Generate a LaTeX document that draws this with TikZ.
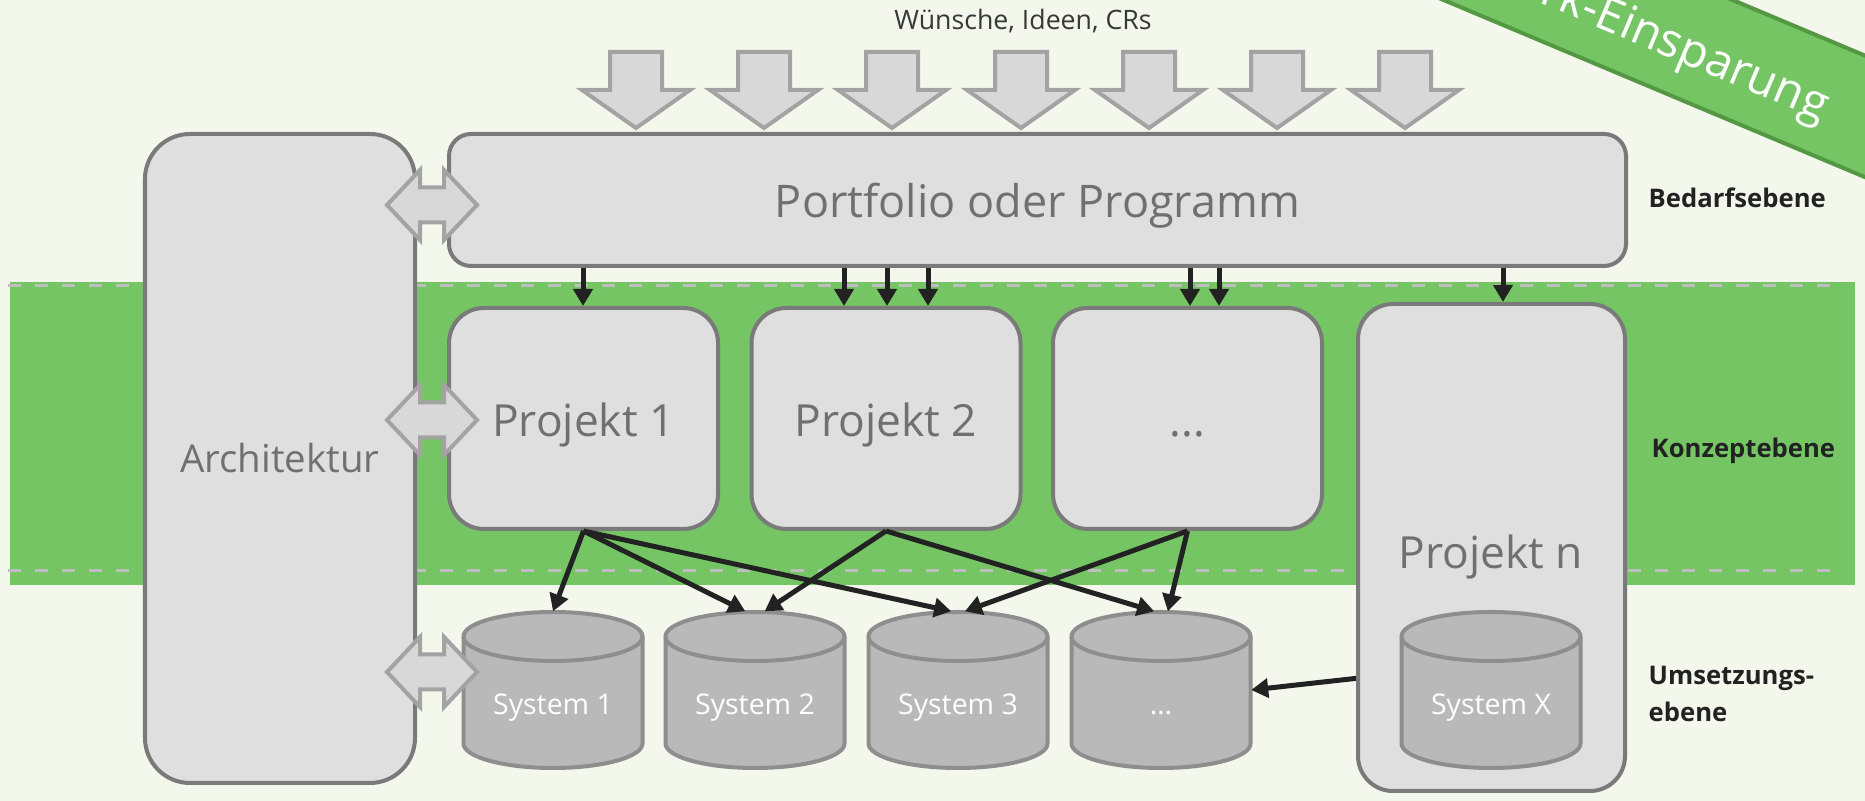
\documentclass[tikz,border=0pt]{standalone}
\usepackage{fontspec}
\setmainfont{Open Sans}
\usetikzlibrary{arrows.meta}

\definecolor{bgcol}{RGB}{244,247,236}
\definecolor{bandgreen}{RGB}{118,197,101}
\definecolor{banddark}{RGB}{84,152,68}
\definecolor{dashgray}{RGB}{190,190,190}
\definecolor{boxfill}{RGB}{223,223,223}
\definecolor{boxline}{RGB}{122,122,122}
\definecolor{boxtext}{RGB}{112,112,112}
\definecolor{arrfill}{RGB}{216,216,216}
\definecolor{arrline}{RGB}{163,163,163}
\definecolor{dbfill}{RGB}{185,185,185}
\definecolor{dbline}{RGB}{142,142,142}
\definecolor{ink}{RGB}{34,34,34}

\tikzset{every node/.style={inner sep=0pt}}

\begin{document}
\begin{tikzpicture}[box/.style={rounded corners=0.35cm,draw=boxline,fill=boxfill,line width=1.14pt,text=boxtext},
    dbshape/.style={draw=dbline,fill=dbfill,line width=1.14pt},
    dbnode/.style={minimum width=1.79cm,minimum height=1.56cm,text height=0.57cm,text depth=0.07cm,text=white,font=\fontsize{8.1}{10}\selectfont},
    flow/.style={-{Triangle[width=0.19cm,length=0.17cm]},draw=ink,line width=1.42pt},
    blockarrow/.style={draw=arrline,fill=arrfill,line width=1.14pt},
    level/.style={anchor=west,align=left,text=ink,font=\fontsize{7.3}{10.5}\selectfont\bfseries},
    big/.style={text height=0.37cm,text depth=0pt,font=\fontsize{12.6}{15}\selectfont}]
    \fill [bgcol] (0,0) rectangle (18.65,-8.01);
    \useasboundingbox (0,0) rectangle (18.65,-8.01);
    \fill [bandgreen] (0.10,-2.82) rectangle (18.55,-5.85);
    \draw [dashgray,line width=0.85pt,dash pattern=on 0.13cm off 0.14cm] (0.08,-2.86) -- (18.37,-2.86);
    \draw [dashgray,line width=0.85pt,dash pattern=on 0.13cm off 0.14cm] (0.08,-5.71) -- (18.37,-5.71);

    \node (Banner) at (16.88,-0.42) [rotate=-22.8,fill=bandgreen,draw=banddark,line width=1.14pt,minimum width=8cm,minimum height=1.12cm,text height=0.54cm,text depth=0.11cm,text=white,font=\fontsize{13.4}{15}\selectfont]{rk-Einsparung};

    \node (Wishes) at (10.23,-0.21) [text=ink!90,font=\fontsize{7.6}{9}\selectfont]{Wünsche, Ideen, CRs};

    \node (Arch) at (2.80,-4.585) [box,rounded corners=0.45cm,minimum width=2.70cm,minimum height=6.49cm,font=\fontsize{10.95}{13}\selectfont]{Architektur};
    \node (Port) at (10.375,-2.00) [box,rounded corners=0.22cm,minimum width=11.77cm,minimum height=1.32cm,text height=0.35cm,text depth=0pt,font=\fontsize{12.8}{15}\selectfont]{Portfolio oder Programm};
    \node (P1) at (5.835,-4.185) [box,big,minimum width=2.69cm,minimum height=2.21cm]{Projekt 1};
    \node (P2) at (8.86,-4.185) [box,big,minimum width=2.69cm,minimum height=2.21cm]{Projekt 2};
    \node (P3) at (11.875,-4.185) [box,big,minimum width=2.69cm,minimum height=2.21cm]{...};
    \node (Pn) at (14.915,-5.475) [box,minimum width=2.67cm,minimum height=4.87cm]{};
    \node (PnText) at (14.91,-5.50) [big,text=boxtext]{Projekt n};

    \foreach \x/\n/\t in {5.53/S1/System 1,7.55/S2/System 2,9.58/S3/System 3,11.61/S4/…,14.91/SX/System X} {
        \draw [dbshape] (\x-0.895,-6.365) -- (\x-0.895,-7.435) arc [start angle=180,end angle=360,x radius=0.895,y radius=0.245] -- (\x+0.895,-6.365) arc [start angle=0,end angle=180,x radius=0.895,y radius=0.245] -- cycle;
        \draw [dbshape,fill=none] (\x-0.895,-6.365) arc [start angle=180,end angle=360,x radius=0.895,y radius=0.245];
        \node (\n) at (\x,-6.90) [dbnode]{\t};
    }

    \foreach \x in {6.36,7.64,8.92,10.21,11.49,12.77,14.05}
        \draw [blockarrow] (\x-0.26,-0.52) -- (\x+0.26,-0.52) -- (\x+0.26,-0.90) -- (\x+0.54,-0.90) -- (\x,-1.28) -- (\x-0.54,-0.90) -- (\x-0.26,-0.90) -- cycle;

    \foreach \y in {-2.05,-4.20,-6.72}
        \draw [blockarrow] (3.87,\y) -- ++(0.33,0.35) -- ++(0,-0.175) -- ++(0.24,0) -- ++(0,0.175) -- ++(0.33,-0.35) -- ++(-0.33,-0.35) -- ++(0,0.175) -- ++(-0.24,0) -- ++(0,-0.175) -- cycle;

    \foreach \x/\p in {5.83/P1,8.44/P2,8.87/P2,9.28/P2,11.90/P3,12.19/P3,15.03/Pn}
        \draw [flow] (Port.south -| \x,0) to (\p.north -| \x,0);

    \draw [flow] (P1.south) to (S1.north);
    \draw [flow] (P1.south) to (S2.97);
    \draw [flow] (P1.south) to (S3.95);
    \draw [flow] (P2.south) to (S2.83);
    \draw [flow] (P2.south) to (S4.95);
    \draw [flow] (P3.south) to (S3.85);
    \draw [flow] (P3.south) to (S4.85);
    \draw [flow] (Pn.224) to (S4.east);

    \node (Bedarf) at (16.48,-1.98) [level]{Bedarfsebene};
    \node (Konzept) at (16.51,-4.51) [level]{Konzeptebene};
    \node (Umsetz) at (16.48,-6.94) [level]{Umsetzungs-\\ebene};
\end{tikzpicture}
\end{document}
